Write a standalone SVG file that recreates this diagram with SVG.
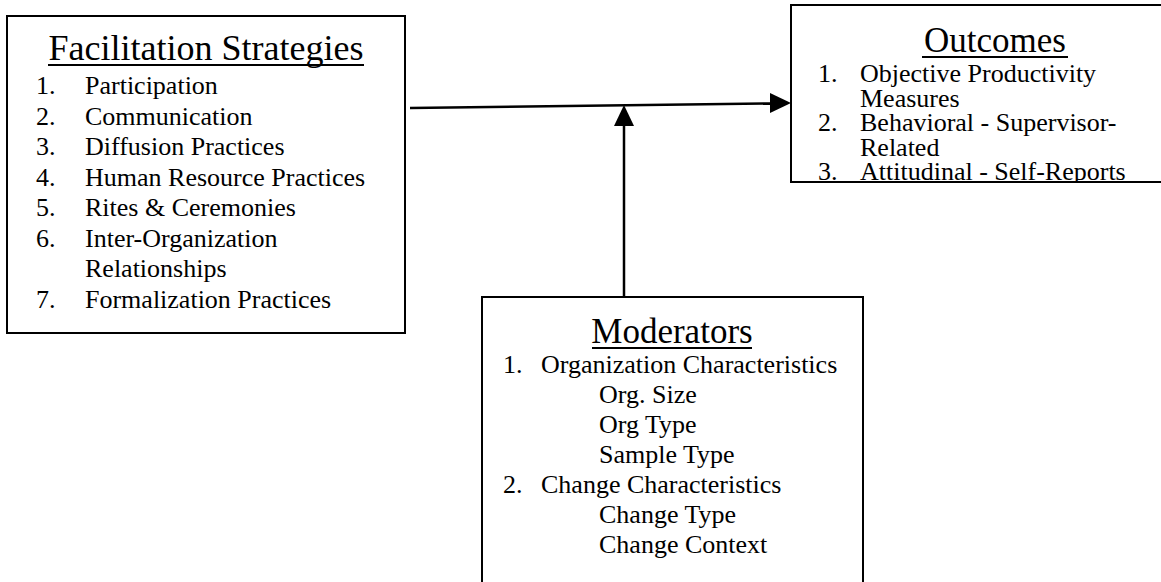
<svg xmlns="http://www.w3.org/2000/svg" width="1161" height="582" viewBox="0 0 1161 582">
<style>
  .box { fill: #fff; stroke: #000; stroke-width: 2; }
  .t { font-family: "Liberation Serif", "Times New Roman", serif; fill: #000; }
  .title { font-size: 35px; text-anchor: middle; }
  .item { font-size: 26px; }
  .ul { stroke: #000; stroke-width: 2; }
  .conn { stroke: #000; stroke-width: 2.5; fill: none; }
</style>
<defs>
  <clipPath id="outClip"><rect x="791" y="0" width="370" height="181"/></clipPath>
</defs>
<rect width="1161" height="582" fill="#fff"/>

<g id="facilitation">
  <rect class="box" x="7" y="16" width="398" height="317"/>
  <text class="t title" x="206" y="60" style="font-size:36px">Facilitation Strategies</text>
  <line class="ul" x1="48" y1="65" x2="364" y2="65"/>
  <g class="t item">
    <text x="36" y="94">1.</text><text x="85" y="94">Participation</text>
    <text x="36" y="124.5">2.</text><text x="85" y="124.5">Communication</text>
    <text x="36" y="155">3.</text><text x="85" y="155">Diffusion Practices</text>
    <text x="36" y="185.5">4.</text><text x="85" y="185.5">Human Resource Practices</text>
    <text x="36" y="216">5.</text><text x="85" y="216">Rites &amp; Ceremonies</text>
    <text x="36" y="246.5">6.</text><text x="85" y="246.5">Inter-Organization</text>
    <text x="85" y="277">Relationships</text>
    <text x="36" y="307.5">7.</text><text x="85" y="307.5">Formalization Practices</text>
  </g>
</g>

<g id="outcomes">
  <rect class="box" x="791" y="5" width="380" height="177"/>
  <text class="t title" x="995" y="52">Outcomes</text>
  <line class="ul" x1="922" y1="57" x2="1068" y2="57"/>
  <g class="t item" clip-path="url(#outClip)">
    <text x="818" y="82">1.</text><text x="860" y="82">Objective Productivity</text>
    <text x="860" y="106.5">Measures</text>
    <text x="818" y="131">2.</text><text x="860" y="131">Behavioral - Supervisor-</text>
    <text x="860" y="155.5">Related</text>
    <text x="818" y="180">3.</text><text x="860" y="180">Attitudinal - Self-Reports</text>
  </g>
  <line class="ul" x1="791" y1="182" x2="1161" y2="182"/>
</g>

<g id="moderators">
  <rect class="box" x="482" y="297" width="381" height="300"/>
  <text class="t title" x="672" y="343">Moderators</text>
  <line class="ul" x1="592" y1="348" x2="752" y2="348"/>
  <g class="t item">
    <text x="503" y="373">1.</text><text x="541" y="373">Organization Characteristics</text>
    <text x="599" y="403">Org. Size</text>
    <text x="599" y="433">Org Type</text>
    <text x="599" y="463">Sample Type</text>
    <text x="503" y="493">2.</text><text x="541" y="493">Change Characteristics</text>
    <text x="599" y="523">Change Type</text>
    <text x="599" y="553">Change Context</text>
  </g>
</g>

<g id="connectors">
  <line class="conn" x1="410" y1="108" x2="772" y2="103.5"/>
  <polygon points="791,103 770,93 770,113" fill="#000"/>
  <line class="conn" x1="624" y1="297" x2="624" y2="124"/>
  <polygon points="624,105 614,126 634,126" fill="#000"/>
</g>
</svg>
